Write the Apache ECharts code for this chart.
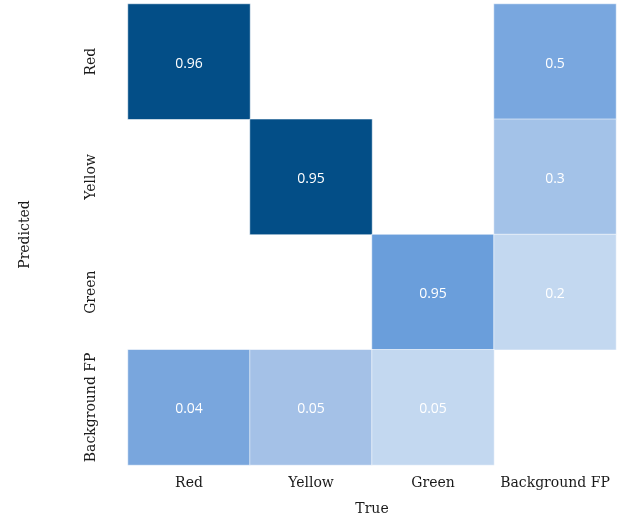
<!DOCTYPE html>
<html><head><meta charset="utf-8">
<script src="https://cdn.jsdelivr.net/npm/echarts@6/dist/echarts.min.js"></script>
<style>html,body{margin:0;padding:0;background:#fff}#c{width:621px;height:521px}</style>
</head><body><div id="c"></div>
<script>
var trueLabels = ['Red', 'Yellow', 'Green', 'Background FP'];
var predLabels = ['Red', 'Yellow', 'Green', 'Background FP'];
// [trueIndex, predIndex, value]
var cells = [
  [0, 0, 0.96], [3, 0, 0.5],
  [1, 1, 0.95], [3, 1, 0.3],
  [2, 2, 0.95], [3, 2, 0.2],
  [0, 3, 0.04], [1, 3, 0.05], [2, 3, 0.05]
];
var cellColors = ['#034e87', '#79a7df', '#034e87', '#a3c2e8', '#6a9edb', '#c3d8f0', '#79a6dd', '#a4c1e7', '#c3d8f0'];

var serif = 'DejaVu Serif';
var data = cells.map(function (c, i) {
  return { value: c, itemStyle: { color: cellColors[i] } };
});
var chart = echarts.init(document.getElementById('c'));
chart.setOption({
  animation: false,
  grid: { left: 128, right: 5, top: 4, bottom: 53 },
  xAxis: {
    type: 'category', data: trueLabels,
    name: 'True', nameLocation: 'middle', nameGap: 37,
    nameTextStyle: { fontFamily: serif, fontSize: 14, color: '#1a1a1a' },
    axisLine: { show: false }, axisTick: { show: false }, splitLine: { show: false },
    axisLabel: { fontFamily: serif, fontSize: 14, color: '#1a1a1a', margin: 11, interval: 0 }
  },
  yAxis: {
    type: 'category', data: predLabels, inverse: true,
    name: 'Predicted', nameLocation: 'middle', nameGap: 96, nameRotate: 90,
    nameTextStyle: { fontFamily: serif, fontSize: 14, color: '#1a1a1a' },
    axisLine: { show: false }, axisTick: { show: false }, splitLine: { show: false },
    axisLabel: { fontFamily: serif, fontSize: 14, color: '#1a1a1a', rotate: 90, margin: 30, interval: 0 }
  },
  series: [{
    type: 'heatmap', data: data,
    itemStyle: { borderColor: 'rgba(255,255,255,0.55)', borderWidth: 1 },
    label: { show: true, color: '#fff', fontFamily: 'Open Sans', fontSize: 14, offset: [0, 2],
      formatter: function (p) { return p.value[2]; } }
  }]
});
</script></body></html>
